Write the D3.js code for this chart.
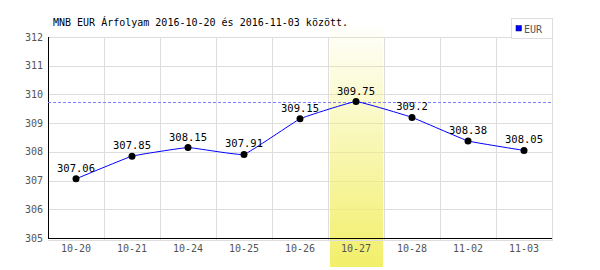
<!DOCTYPE html>
<html>
<head>
<meta charset="utf-8">
<script src="https://cdn.jsdelivr.net/npm/d3@7"></script>
<style>
  body { margin: 0; background: #fff; }
  text { font-family: "DejaVu Sans Mono", monospace; }
</style>
</head>
<body>
<svg width="600" height="270"></svg>
<script>
// data
let dates = ['10-20', '10-21', '10-24', '10-25', '10-26', '10-27', '10-28', '11-02', '11-03'];
let rates = [307.06, 307.85, 308.15, 307.91, 309.15, 309.75, 309.2, 308.38, 308.05];
let yTicks = [305, 306, 307, 308, 309, 310, 311, 312];
let highlight = '10-27';
let title = 'MNB EUR Árfolyam 2016-10-20 és 2016-11-03 között.';
let seriesName = 'EUR';

let plotLeft = 48, plotRight = 552, plotTop = 37, plotBottom = 238;

let svg = d3.select('svg');

let x = d3.scaleBand().domain(dates).range([plotLeft, plotRight]);
let y = d3.scaleLinear().domain([305, 312]).range([plotBottom, plotTop]);

// gradient for highlighted day
let defs = svg.append('defs');
let grad = defs.append('linearGradient')
    .attr('id', 'hl')
    .attr('x1', 0).attr('y1', 0).attr('x2', 0).attr('y2', 1);
grad.append('stop').attr('offset', '0%').attr('stop-color', '#f2ef6a').attr('stop-opacity', 0);
grad.append('stop').attr('offset', '100%').attr('stop-color', '#f2ef6a').attr('stop-opacity', 1);

// grid
svg.append('g')
    .selectAll('line')
    .data(yTicks)
    .enter()
    .append('line')
    .attr('x1', plotLeft).attr('x2', plotRight)
    .attr('y1', d => Math.round(y(d)) + 0.5).attr('y2', d => Math.round(y(d)) + 0.5)
    .attr('stroke', '#dddddd');

svg.append('g')
    .selectAll('line')
    .data(dates)
    .enter()
    .append('line')
    .attr('x1', d => x(d) + x.step() + 0.5)
    .attr('x2', d => x(d) + x.step() + 0.5)
    .attr('y1', plotTop).attr('y2', plotBottom + 3)
    .attr('stroke', '#dddddd');

// highlight band
svg.append('rect')
    .attr('x', x(highlight) + 2)
    .attr('width', x.bandwidth() - 3)
    .attr('y', 21)
    .attr('height', 267 - 21)
    .attr('fill', 'url(#hl)');

// gray line under x axis
svg.append('line')
    .attr('x1', plotLeft).attr('x2', plotRight)
    .attr('y1', plotBottom + 2.5).attr('y2', plotBottom + 2.5)
    .attr('stroke', '#dddddd');

// axes lines
svg.append('line')
    .attr('x1', plotLeft + 0.5).attr('x2', plotLeft + 0.5)
    .attr('y1', plotTop).attr('y2', plotBottom + 1)
    .attr('stroke', '#000');
svg.append('line')
    .attr('x1', plotLeft).attr('x2', plotRight)
    .attr('y1', plotBottom + 0.5).attr('y2', plotBottom + 0.5)
    .attr('stroke', '#000');

// y tick labels
svg.append('g')
    .selectAll('text')
    .data(yTicks)
    .enter()
    .append('text')
    .attr('x', 43)
    .attr('y', d => y(d) + 3.5)
    .attr('text-anchor', 'end')
    .attr('font-size', 10)
    .attr('fill', '#555')
    .text(d => d);

// x tick labels
svg.append('g')
    .selectAll('text')
    .data(dates)
    .enter()
    .append('text')
    .attr('x', d => x(d) + x.bandwidth() / 2)
    .attr('y', 252)
    .attr('text-anchor', 'middle')
    .attr('font-size', 10)
    .attr('fill', '#555')
    .text(d => d);

// max dashed line
let maxVal = d3.max(rates);
svg.append('line')
    .attr('x1', plotLeft).attr('x2', plotRight)
    .attr('y1', Math.round(y(maxVal)) + 0.5).attr('y2', Math.round(y(maxVal)) + 0.5)
    .attr('stroke', '#8080ff')
    .attr('stroke-dasharray', '3,2');

// series line
let line = d3.line()
    .x((d, i) => x(dates[i]) + x.bandwidth() / 2)
    .y(d => y(d))
    .curve(d3.curveCardinal.tension(0.75));

svg.append('path')
    .datum(rates)
    .attr('d', line)
    .attr('fill', 'none')
    .attr('stroke', '#0000ff')
    .attr('stroke-width', 1);

svg.append('g')
    .selectAll('circle')
    .data(rates)
    .enter()
    .append('circle')
    .attr('cx', (d, i) => x(dates[i]) + x.bandwidth() / 2)
    .attr('cy', d => y(d))
    .attr('r', 3.5)
    .attr('fill', '#000');

svg.append('g')
    .selectAll('text')
    .data(rates)
    .enter()
    .append('text')
    .attr('x', (d, i) => x(dates[i]) + x.bandwidth() / 2)
    .attr('y', d => y(d) - 7)
    .attr('text-anchor', 'middle')
    .attr('font-size', 10.5)
    .attr('fill', '#000')
    .text(d => d);

// title
svg.append('text')
    .attr('x', 53)
    .attr('y', 26)
    .attr('font-size', 10)
    .attr('fill', '#000')
    .text(title);

// legend
svg.append('rect')
    .attr('x', 511.5).attr('y', 18.5)
    .attr('width', 41).attr('height', 20)
    .attr('fill', '#fff')
    .attr('stroke', '#dddddd');
svg.append('rect')
    .attr('x', 516).attr('y', 25.5)
    .attr('width', 5.5).attr('height', 5.5)
    .attr('fill', '#0000ff')
    .attr('stroke', '#000066')
    .attr('stroke-width', 0.5);
svg.append('text')
    .attr('x', 524)
    .attr('y', 32.5)
    .attr('font-family', 'DejaVu Sans, sans-serif')
    .attr('font-size', 10)
    .attr('fill', '#555')
    .text(seriesName);
</script>
</body>
</html>
